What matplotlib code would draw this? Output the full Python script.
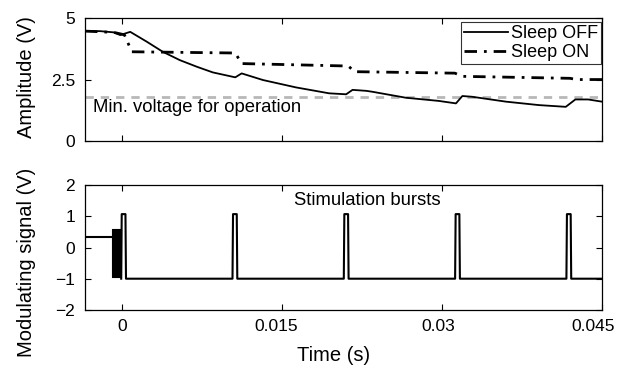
import numpy as np
import matplotlib
matplotlib.use('Agg')
import matplotlib.pyplot as plt
import matplotlib.transforms as mtransforms

plt.rcParams['font.family'] = ['Liberation Sans', 'DejaVu Sans']

# Amplitude, Sleep OFF (solid)
t_off = [-0.0035, -0.0021, -0.0008, -0.0002, 0.00075, 0.0023, 0.0038, 0.0054, 0.0070,
         0.0085, 0.0106, 0.0112, 0.0132, 0.0163, 0.0194, 0.0210, 0.0216, 0.0229,
         0.0235, 0.0266, 0.0297, 0.0313, 0.0319, 0.0328, 0.0360, 0.0391, 0.0416,
         0.0425, 0.0437, 0.0450]
v_off = [4.47, 4.47, 4.42, 4.31, 4.44, 4.04, 3.63, 3.29, 3.02,
         2.79, 2.59, 2.75, 2.48, 2.18, 1.94, 1.90, 2.08, 2.04,
         2.00, 1.76, 1.63, 1.53, 1.83, 1.80, 1.60, 1.46, 1.39,
         1.69, 1.69, 1.60]

# Amplitude, Sleep ON (dash-dot)
t_on = [-0.0035, -0.0008, 0.0002, 0.0009, 0.0106, 0.0112, 0.0212, 0.0218,
        0.0312, 0.0319, 0.0420, 0.0426, 0.0450]
v_on = [4.47, 4.42, 4.32, 3.63, 3.58, 3.15, 3.05, 2.82,
        2.76, 2.63, 2.55, 2.50, 2.50]

v_min = 1.78

# Modulating signal
idle_level = 0.35
burst_span = [-0.00096, -0.00013]
burst_hi, burst_lo = 0.58, -0.93
pulse_start = [-0.0001, 0.01034, 0.02078, 0.03122, 0.04166]
pulse_width = 0.00045
pulse_hi, pulse_lo = 1.07, -1.0

fig = plt.figure(figsize=(6.2, 3.77), dpi=100)
ax1 = fig.add_axes([0.137, 0.626, 0.834, 0.326])
ax2 = fig.add_axes([0.137, 0.178, 0.834, 0.331])

ax1.axhline(v_min, color='#b8b8b8', lw=2, dashes=(3, 2.5), zorder=1)
ax1.plot(t_off, v_off, color='black', lw=1.3, label='Sleep OFF')
ax1.plot(t_on, v_on, color='black', lw=2, linestyle=(0, (4.5, 2.5, 1, 2.5)), label='Sleep ON')
ax1.text(-0.0027, 1.38, 'Min. voltage for operation', fontsize=13.3, va='center')
leg = ax1.legend(loc='upper right', bbox_to_anchor=(0.998, 0.967), borderaxespad=0,
                 fontsize=13, frameon=True, fancybox=False, edgecolor='black',
                 borderpad=0.15, labelspacing=0.12, handlelength=2.4, handletextpad=0.2)
leg.get_frame().set_linewidth(0.8)
ax1.set_ylim(0, 5)
ax1.set_yticks([0, 2.5, 5])
ax1.set_yticklabels(['0', '2.5', '5'])
ax1.set_ylabel('Amplitude (V)', fontsize=14.5)

# step trace of the modulating signal
t_sig = [burst_span[0] - 0.01, burst_span[0]]
v_sig = [idle_level, idle_level]
for s in pulse_start:
    t_sig += [s, s + 0.00005, s + pulse_width - 0.00005, s + pulse_width]
    v_sig += [pulse_lo, pulse_hi, pulse_hi, pulse_lo]
t_sig.append(0.046)
v_sig.append(pulse_lo)
ax2.fill_between(burst_span, burst_lo, burst_hi, color='black', lw=0.8, zorder=3)
ax2.plot(t_sig[:2], v_sig[:2], color='black', lw=1.5)
ax2.plot(t_sig[2:], v_sig[2:], color='black', lw=1.5)
ax2.text(0.0161, 1.5, 'Stimulation bursts', fontsize=13.3, va='center')
ax2.set_ylim(-2, 2)
ax2.set_yticks([-2, -1, 0, 1, 2])
ax2.set_ylabel('Modulating signal (V)', fontsize=14.5)
ax2.set_xlabel('Time (s)', fontsize=14.5)
ax2.xaxis.set_label_coords(0.48, -0.29)

for ax in (ax1, ax2):
    ax.set_xlim(-0.0035, 0.045)
    ax.set_xticks([0, 0.015, 0.03, 0.045])
    ax.tick_params(direction='in', top=True, right=True, labelsize=12.5, length=4, width=0.8)
    ax.tick_params(axis='x', pad=6.5)
    ax.tick_params(axis='y', pad=7)
    for sp in ax.spines.values():
        sp.set_linewidth(0.9)
ax1.yaxis.set_label_coords(-0.095, 0.52)
ax2.yaxis.set_label_coords(-0.095, 0.38)
ax1.set_xticklabels([])
ax2.set_xticklabels(['0', '0.015', '0.03', '0.045'])

# labels sit slightly left of their ticks in the original
for lab, dx in zip(ax2.get_xticklabels(), [0, -6, -4, -9]):
    lab.set_transform(lab.get_transform() + mtransforms.ScaledTranslation(dx / 100, 0, fig.dpi_scale_trans))

fig.savefig('out.png', dpi=100)
